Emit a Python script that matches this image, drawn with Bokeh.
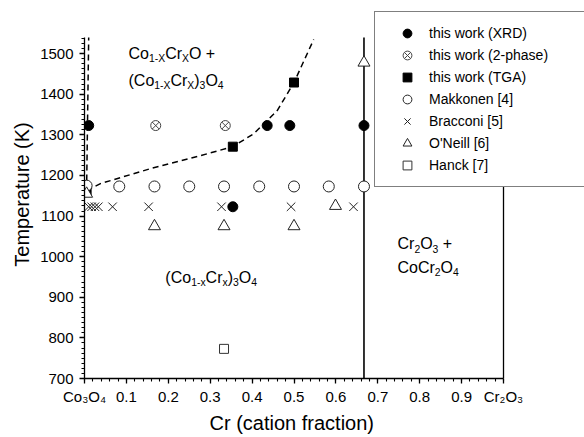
from bokeh.plotting import figure
from bokeh.models import Label, Legend, LegendItem, FixedTicker, Title
from bokeh.embed import file_html
from bokeh.resources import INLINE

FONT = "Liberation Sans"

# ---------------- data ----------------
xrd_x = [0.01, 0.354, 0.436, 0.49, 0.667]
xrd_t = [1323, 1123, 1323, 1323, 1323]

two_phase_x = [0.17, 0.336]
two_phase_t = [1323, 1323]

tga_x = [0.005, 0.354, 0.50]
tga_t = [1163, 1271, 1429]

makkonen_x = [0.005, 0.083, 0.167, 0.25, 0.333, 0.417, 0.5, 0.583, 0.667]
makkonen_t = [1175, 1173, 1173, 1173, 1173, 1173, 1173, 1173, 1173]

bracconi_x = [0.01, 0.017, 0.025, 0.033, 0.067, 0.153, 0.327, 0.493, 0.642]
bracconi_t = [1123, 1123, 1123, 1123, 1123, 1123, 1123, 1123, 1123]

oneill_x = [0.005, 0.167, 0.333, 0.5, 0.599, 0.667]
oneill_t = [1155, 1075, 1075, 1075, 1125, 1478]

hanck_x = [0.333]
hanck_t = [773]

# phase boundaries
bound_x = [0.005, 0.038, 0.158, 0.277, 0.354, 0.404, 0.46, 0.5, 0.547]
bound_t = [1163, 1180, 1217, 1249, 1271, 1303, 1360, 1429, 1535]
vdash_x = [0.005, 0.01]
vdash_t = [1163, 1540]
spinel_x = [0.667, 0.667]
spinel_t = [700, 1540]
border_x = [1.0, 1.0]
border_t = [700, 1540]

x_ticks = [round(i * 0.1, 1) for i in range(11)]
y_ticks = list(range(700, 1501, 100))
x_end_labels = {0: "Co\u2083O\u2084", 1: "Cr\u2082O\u2083"}
legend_labels = ["this work (XRD)", "this work (2-phase)", "this work (TGA)",
                 "Makkonen [4]", "Bracconi [5]", "O'Neill [6]", "Hanck [7]"]

# --------------- figure ---------------
p = figure(width=584, height=437, x_range=(0, 1.1933), y_range=(700, 1606.4),
           output_backend="svg", toolbar_location=None,
           min_border_left=84, min_border_right=0, min_border_top=10,
           min_border_bottom=59)
p.outline_line_color = None
p.xgrid.grid_line_color = None
p.ygrid.grid_line_color = None
p.background_fill_color = "white"

p.xaxis.ticker = FixedTicker(ticks=x_ticks,
                             minor_ticks=[round(i * 0.02, 2) for i in range(51)])
p.xaxis.major_label_overrides = x_end_labels
p.xaxis.bounds = (0, 1)
p.yaxis.ticker = FixedTicker(ticks=y_ticks,
                             minor_ticks=[700 + 12.5 * i for i in range(68)])
p.yaxis.bounds = (700, 1540)

for ax in (p.xaxis[0], p.yaxis[0]):
    ax.axis_line_width = 1.3
    ax.axis_line_color = "black"
    ax.major_tick_line_width = 1.3
    ax.minor_tick_line_width = 1.1
    ax.major_tick_out = 5
    ax.major_tick_in = 0
    ax.minor_tick_out = 3
    ax.minor_tick_in = 0
    ax.major_label_text_font = FONT
    ax.major_label_text_font_size = "15px"
    ax.major_label_text_color = "black"

p.xaxis.major_label_standoff = 4
p.yaxis.major_label_standoff = 6

p.add_layout(Title(text="Temperature (K)", align="center", offset=-35, standoff=9,
                   text_font=FONT, text_font_size="20px", text_font_style="normal",
                   text_color="black"), "left")
p.add_layout(Title(text="Cr (cation fraction)", align="left", offset=125, standoff=5,
                   text_font=FONT, text_font_size="20px", text_font_style="normal",
                   text_color="black"), "below")

# lines
p.line(border_x, border_t, line_color="black", line_width=1.3)
p.line(bound_x, bound_t, line_color="black", line_width=1.5, line_dash="6 4")
p.line(vdash_x, vdash_t, line_color="black", line_width=1.5, line_dash="6 4")
p.line(spinel_x, spinel_t, line_color="black", line_width=1.6)

# markers
r_xrd = p.scatter(xrd_x, xrd_t, marker="circle", size=10, fill_color="black", line_color="black")
r_2p = p.scatter(two_phase_x, two_phase_t, marker="circle_x", size=10, fill_color="white",
                 line_color="#444444", line_width=1)
r_tga = p.scatter(tga_x, tga_t, marker="square", size=9, fill_color="black", line_color="black")
r_mak = p.scatter(makkonen_x, makkonen_t, marker="circle", size=11, fill_color="white",
                  line_color="#222222", line_width=1)
r_bra = p.scatter(bracconi_x, bracconi_t, marker="x", size=12, line_color="#222222", line_width=1)
r_one = p.scatter(oneill_x, oneill_t, marker="triangle", size=12, fill_color="white",
                  line_color="#222222", line_width=1)
r_han = p.scatter(hanck_x, hanck_t, marker="square", size=9, fill_color="white",
                  line_color="#333333", line_width=1)

# --------------- rich text helper ---------------
WID = {'C': .722, 'o': .556, 'r': .333, 'O': .778, '+': .584, ' ': .278, '\u00a0': .278,
       '(': .333, ')': .333, '1': .556, '-': .333, 'x': .5, 'X': .667, '2': .556,
       '3': .556, '4': .556}


def add_rich(x, y, parts, size, x_off=0.0, y_off=0.0, sub_drop=0.3):
    sub_size = size * 0.65
    xo = x_off
    for txt, sub in parts:
        fs = sub_size if sub else size
        yo = y_off - size * sub_drop if sub else y_off
        p.add_layout(Label(x=x, y=y, x_offset=xo, y_offset=yo, text=txt,
                           text_font=FONT, text_font_size=f"{fs:.1f}px",
                           text_baseline="middle", text_align="left",
                           text_color="black"))
        xo += sum(WID.get(c, 0.55) for c in txt) * fs


add_rich(0.105, 1500, [("Co", 0), ("1-X", 1), ("Cr", 0), ("X", 1), ("O +", 0)], 16)
add_rich(0.105, 1434, [("(Co", 0), ("1-X", 1), ("Cr", 0), ("X", 1), (")", 0), ("3", 1),
                       ("O", 0), ("4", 1)], 16)
add_rich(0.193, 949, [("(Co", 0), ("1-x", 1), ("Cr", 0), ("x", 1), (")", 0), ("3", 1),
                      ("O", 0), ("4", 1)], 16)
add_rich(0.747, 1032, [("Cr", 0), ("2", 1), ("O", 0), ("3", 1), ("\u00a0+", 0)], 16)
add_rich(0.747, 973, [("CoCr", 0), ("2", 1), ("O", 0), ("4", 1)], 16)

# --------------- legend ---------------
items = [LegendItem(label=l, renderers=[r]) for l, r in
         zip(legend_labels, [r_xrd, r_2p, r_tga, r_mak, r_bra, r_one, r_han])]
legend = Legend(items=items, location=(290, 191), padding=10, spacing=0, margin=0,
                label_height=22, glyph_height=22, glyph_width=44, label_standoff=0,
                label_width=145,
                label_text_font=FONT, label_text_font_size="14px", label_text_color="black",
                border_line_color="black", border_line_width=1.2,
                background_fill_color="white", background_fill_alpha=1.0)
p.add_layout(legend)

open("out.html", "w").write(file_html(p, INLINE))
